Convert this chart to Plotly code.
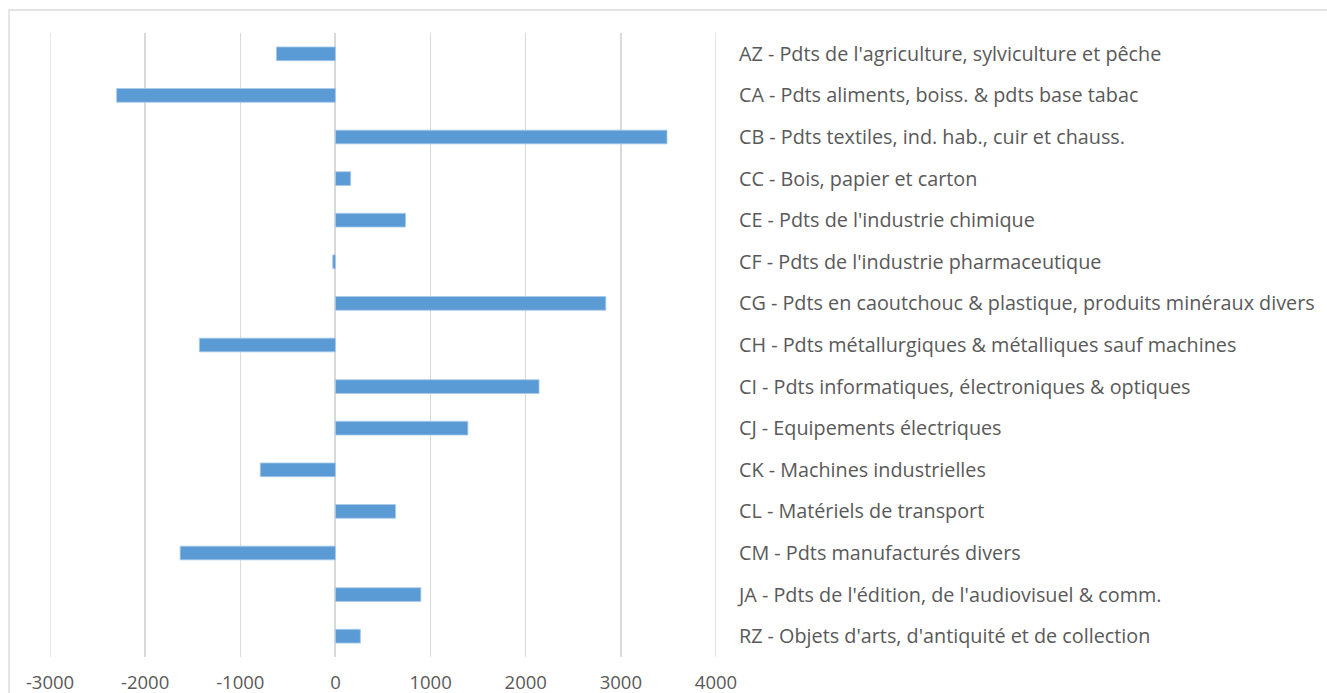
import plotly.graph_objects as go

categories = [
    "AZ - Pdts de l'agriculture, sylviculture et pêche",
    "CA - Pdts aliments, boiss. & pdts base tabac",
    "CB - Pdts textiles, ind. hab., cuir et chauss.",
    "CC - Bois, papier et carton",
    "CE - Pdts de l'industrie chimique",
    "CF - Pdts de l'industrie pharmaceutique",
    "CG - Pdts en caoutchouc & plastique, produits minéraux divers",
    "CH - Pdts métallurgiques & métalliques sauf machines",
    "CI - Pdts informatiques, électroniques & optiques",
    "CJ - Equipements électriques",
    "CK - Machines industrielles",
    "CL - Matériels de transport",
    "CM - Pdts manufacturés divers",
    "JA - Pdts de l'édition, de l'audiovisuel & comm.",
    "RZ - Objets d'arts, d'antiquité et de collection",
]
values = [-620, -2300, 3485, 160, 737, -28, 2842, -1430, 2140, 1392, -790, 632, -1632, 898, 262]

x_tickvals = [-3000, -2000, -1000, 0, 1000, 2000, 3000, 4000]
x_ticktext = ["-3000", "-2000", "-1000", "0", "1000", "2000", "3000", "4000"]

W, H = 1327, 693
L, R, T, B = 50, 611, 33, 36
pw = W - L - R
ph = H - T - B
GRID = "#d9d9d9"

fig = go.Figure(
    go.Bar(
        x=values,
        y=categories,
        orientation="h",
        marker=dict(color="#5b9bd5", line=dict(color="#a8c9ea", width=0.8)),
        width=0.33,
        hoverinfo="skip",
    )
)

def px_x(p):
    return (p - L) / pw

def px_y(p):
    return (H - B - p) / ph

shapes = [
    dict(
        type="rect",
        xref="paper",
        yref="paper",
        x0=px_x(9),
        x1=px_x(W + 20),
        y0=px_y(H + 20),
        y1=px_y(10),
        line=dict(color=GRID, width=1.3),
        fillcolor="rgba(0,0,0,0)",
        layer="below",
    )
]
# gridlines at the range edges (plotly omits them)
for xv in (x_tickvals[0], x_tickvals[-1]):
    shapes.append(
        dict(
            type="line",
            xref="x",
            yref="paper",
            x0=xv,
            x1=xv,
            y0=0,
            y1=1,
            line=dict(color=GRID, width=1.3),
            layer="below",
        )
    )

fig.update_layout(
    width=W,
    height=H,
    margin=dict(l=L, r=R, t=T, b=B, autoexpand=False),
    paper_bgcolor="white",
    plot_bgcolor="white",
    showlegend=False,
    font=dict(family="'Open Sans', Lato, sans-serif", color="#595959"),
    xaxis=dict(
        range=[-3000, 4000],
        tickvals=x_tickvals,
        ticktext=x_ticktext,
        showgrid=True,
        gridcolor=GRID,
        gridwidth=1.3,
        zeroline=True,
        zerolinecolor=GRID,
        zerolinewidth=2,
        showline=False,
        ticks="outside",
        ticklen=9,
        tickcolor="rgba(0,0,0,0)",
        tickfont=dict(size=18.5, color="#595959"),
        fixedrange=True,
    ),
    yaxis=dict(
        categoryorder="array",
        categoryarray=categories[::-1],
        side="right",
        showgrid=False,
        zeroline=False,
        showline=False,
        ticks="outside",
        ticklen=18,
        tickcolor="rgba(0,0,0,0)",
        tickfont=dict(size=19.8, color="#595959"),
        automargin=False,
        fixedrange=True,
    ),
    shapes=shapes,
)

fig.write_html(
    "out.html",
    config={"displayModeBar": False, "staticPlot": True},
    post_script="document.body.style.margin='0';document.body.style.overflow='hidden';",
)
